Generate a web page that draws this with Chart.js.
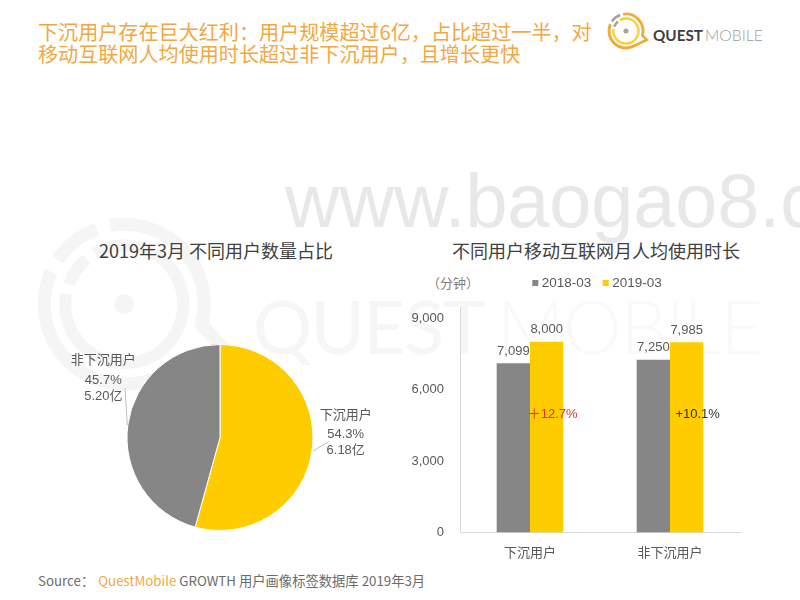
<!DOCTYPE html>
<html>
<head>
<meta charset="utf-8">
<script src="https://cdn.jsdelivr.net/npm/chart.js@4"></script>
<style>
  body { margin: 0; background: #fff; }
  #page { position: relative; width: 800px; height: 600px; overflow: hidden; font-family: "Noto Sans CJK SC", sans-serif; }
  #page > * { position: absolute; }
  #headline { left: 38px; top: 21px; width: 570px; font-size: 20.1px; line-height: 22px; color: #f3a741; }
  .subtitle { top: 238px; font-size: 18px; line-height: 24px; color: #404040; white-space: nowrap; transform: translateX(-50%); }
  #unit { left: 453px; top: 274px; font-size: 13px; line-height: 18px; color: #7f7f7f; transform: translateX(-50%); }
  #source { left: 38px; top: 572px; font-size: 13.3px; line-height: 18px; color: #6b6b6b; white-space: nowrap; }
  #source b { font-weight: 400; color: #f3a741; margin-left: 4px; }
</style>
</head>
<body>
<div id="page">
  <svg id="backdrop" width="800" height="600">
    <text x="285" y="227" font-family="Liberation Sans" font-size="75.5" fill="#e8e8e8">www.baogao8.c</text>
    <text x="253" y="354" font-family="Lato" font-size="74" fill="#f6f6f6" textLength="233">QUEST</text>
    <text x="497" y="354" font-family="Lato" font-weight="300" font-size="74" fill="#f9f9f9" textLength="266">MOBILE</text>
    <text x="653" y="40.5" font-family="Lato" font-weight="700" font-size="15.5" fill="#3f3f3f" textLength="50" lengthAdjust="spacingAndGlyphs">QUEST</text>
    <text x="705" y="40.5" font-family="Lato" font-weight="300" font-size="15.5" fill="#9b9b9b" textLength="58" lengthAdjust="spacingAndGlyphs">MOBILE</text>
  </svg>

  <div id="headline">下沉用户存在巨大红利：用户规模超过6亿，占比超过一半，对<br>移动互联网人均使用时长超过非下沉用户，且增长更快</div>
  <div class="subtitle" style="left:216px">2019年3月 不同用户数量占比</div>
  <div class="subtitle" style="left:596px">不同用户移动互联网月人均使用时长</div>
  <div id="unit">（分钟）</div>
  <div id="source">Source：<b>QuestMobile</b> GROWTH 用户画像标签数据库 2019年3月</div>

  <canvas id="pieChart" width="340" height="215" style="left:50px;top:330px"></canvas>
  <canvas id="barChart" width="340" height="300" style="left:410px;top:264px"></canvas>
</div>

<script>
const pieLabels = ["下沉用户", "非下沉用户"];
const pieShares = [54.3, 45.7];
const pieAmounts = ["6.18亿", "5.20亿"];

const barCategories = ["下沉用户", "非下沉用户"];
const barSeriesNames = ["2018-03", "2019-03"];
const minutes2018 = [7099, 7250];
const minutes2019 = [8000, 7985];
const growthLabels = ["＋12.7%", "+10.1%"];
const yTicks = [0, 3000, 6000, 9000];

const GRAY = "#868686";
const YELLOW = "#ffcc00";
const TEXT = "#595959";
const LATIN = '"Liberation Sans", "Noto Sans CJK SC"';

Chart.defaults.font.family = LATIN;
Chart.defaults.font.size = 13;
Chart.defaults.color = TEXT;

// the QuestMobile ring mark, used for the logo and for the big watermark
function drawRingMark(cx, cy, k, colors) {
  const svg = document.getElementById("backdrop");
  const pt = (r, deg) => {
    const a = deg * Math.PI / 180;
    return (cx + r * k * Math.cos(a)).toFixed(2) + " " + (cy + r * k * Math.sin(a)).toFixed(2);
  };
  const arc = (r, from, to) => {
    const large = to - from > 180 ? 1 : 0;
    return "A " + (r * k) + " " + (r * k) + " 0 " + large + " 1 " + pt(r, to);
  };
  const addPath = (d, stroke, width) => {
    const p = document.createElementNS("http://www.w3.org/2000/svg", "path");
    p.setAttribute("d", d);
    p.setAttribute("fill", "none");
    p.setAttribute("stroke", stroke);
    p.setAttribute("stroke-width", width * k);
    svg.insertBefore(p, svg.firstChild);
  };
  const tip = (cx + 97 * k).toFixed(2) + " " + (cy + 42 * k).toFixed(2);
  addPath("M " + pt(80, -100) + " " + arc(80, -100, 15) + " L " + tip + " L " + pt(80, 62) + " " + arc(80, 62, 204), colors[0], 13);
  addPath("M " + pt(59, 240) + " " + arc(59, 240, 550), colors[1], 12);
  addPath("M " + pt(80, 214) + " " + arc(80, 214, 250), colors[2], 13);
  addPath("M " + pt(59, 200) + " " + arc(59, 200, 230), colors[2], 12);
  const dot = document.createElementNS("http://www.w3.org/2000/svg", "circle");
  dot.setAttribute("cx", cx);
  dot.setAttribute("cy", cy);
  dot.setAttribute("r", 10 * k + (k < 1 ? 0.4 : 0));
  dot.setAttribute("fill", colors[2]);
  svg.insertBefore(dot, svg.firstChild);
}
drawRingMark(124.3, 304.3, 1, ["#f5f5f5", "#f5f5f5", "#f5f5f5"]);
drawRingMark(626, 31, 0.2125, ["#f2a93b", "#f8d33a", "#a3a3a3"]);

// labels and leader lines next to the pie
const pieCallouts = {
  id: "pieCallouts",
  afterDraw(chart) {
    const { ctx } = chart;
    const arcs = chart.getDatasetMeta(0).data;
    const cx = arcs[0].x, cy = arcs[0].y;
    const spots = [
      { x: 125.7, y: [-22.5, -3.5, 13.2], line: [[93, 13.5], [109, 4]] },
      { x: -116.7, y: [-76.8, -56.8, -41.5], line: [[-92.7, -12.5], [-95, -49.5]] }
    ];
    ctx.save();
    ctx.font = "13px " + LATIN;
    ctx.textAlign = "center";
    ctx.textBaseline = "middle";
    ctx.fillStyle = TEXT;
    spots.forEach((s, i) => {
      ctx.strokeStyle = "#bfbfbf";
      ctx.lineWidth = 1;
      ctx.beginPath();
      ctx.moveTo(cx + s.line[0][0], cy + s.line[0][1]);
      ctx.lineTo(cx + s.line[1][0], cy + s.line[1][1]);
      ctx.stroke();
      const texts = [pieLabels[i], pieShares[i].toFixed(1) + "%", pieAmounts[i]];
      texts.forEach((t, j) => ctx.fillText(t, cx + s.x, cy + s.y[j]));
    });
    ctx.restore();
  }
};

new Chart(document.getElementById("pieChart"), {
  type: "pie",
  data: {
    labels: pieLabels,
    datasets: [{
      data: pieShares,
      backgroundColor: [YELLOW, GRAY],
      borderColor: "#ffffff",
      borderWidth: 1
    }]
  },
  options: {
    responsive: false,
    animation: false,
    layout: { padding: { top: 14, bottom: 14 } },
    plugins: { legend: { display: false }, tooltip: { enabled: false } }
  },
  plugins: [pieCallouts]
});

// value labels over the bars, the growth notes and the small legend
const barNotes = {
  id: "barNotes",
  afterDatasetsDraw(chart) {
    const { ctx } = chart;
    const y = chart.scales.y;
    ctx.save();
    ctx.font = "13px " + LATIN;
    ctx.textAlign = "center";
    ctx.textBaseline = "middle";
    ctx.fillStyle = TEXT;
    chart.data.datasets.forEach((ds, d) => {
      chart.getDatasetMeta(d).data.forEach((bar, i) => {
        ctx.fillText(ds.data[i].toLocaleString("en-US"), bar.x, bar.y - 12);
      });
    });
    const bars = chart.getDatasetMeta(1).data;
    ctx.fillStyle = "#e0332c";
    ctx.fillText(growthLabels[0], bars[0].x + 6, y.getPixelForValue(4970));
    ctx.fillStyle = "#333333";
    ctx.fillText(growthLabels[1], bars[1].x + 11, y.getPixelForValue(4970));

    ctx.font = "13.5px " + LATIN;
    ctx.textAlign = "left";
    [122.3, 192.7].forEach((x, i) => {
      ctx.fillStyle = chart.data.datasets[i].backgroundColor;
      ctx.fillRect(x, 16, 6, 6);
      ctx.fillStyle = TEXT;
      ctx.fillText(barSeriesNames[i], x + 9.5, 19);
    });
    ctx.restore();
  }
};

new Chart(document.getElementById("barChart"), {
  type: "bar",
  data: {
    labels: barCategories,
    datasets: [
      { label: barSeriesNames[0], data: minutes2018, backgroundColor: GRAY },
      { label: barSeriesNames[1], data: minutes2019, backgroundColor: YELLOW }
    ]
  },
  options: {
    responsive: false,
    animation: false,
    categoryPercentage: 0.476,
    barPercentage: 1,
    layout: { padding: { top: 43, right: 10 } },
    scales: {
      x: {
        grid: { display: false },
        border: { color: "#d9d9d9" },
        ticks: { padding: 3.5, color: TEXT, font: { family: '"Noto Sans CJK SC"', size: 13 } },
        afterFit(scale) { scale.height = 31.5; }
      },
      y: {
        min: 0,
        max: 9460,
        grid: { display: false, drawTicks: false },
        border: { color: "#d9d9d9" },
        ticks: { padding: 16, color: TEXT, callback: v => v.toLocaleString("en-US") },
        afterBuildTicks(scale) { scale.ticks = yTicks.map(v => ({ value: v })); },
        afterFit(scale) { scale.width = 50; }
      }
    },
    plugins: {
      tooltip: { enabled: false },
      legend: { display: false }
    }
  },
  plugins: [barNotes]
});
</script>
</body>
</html>
